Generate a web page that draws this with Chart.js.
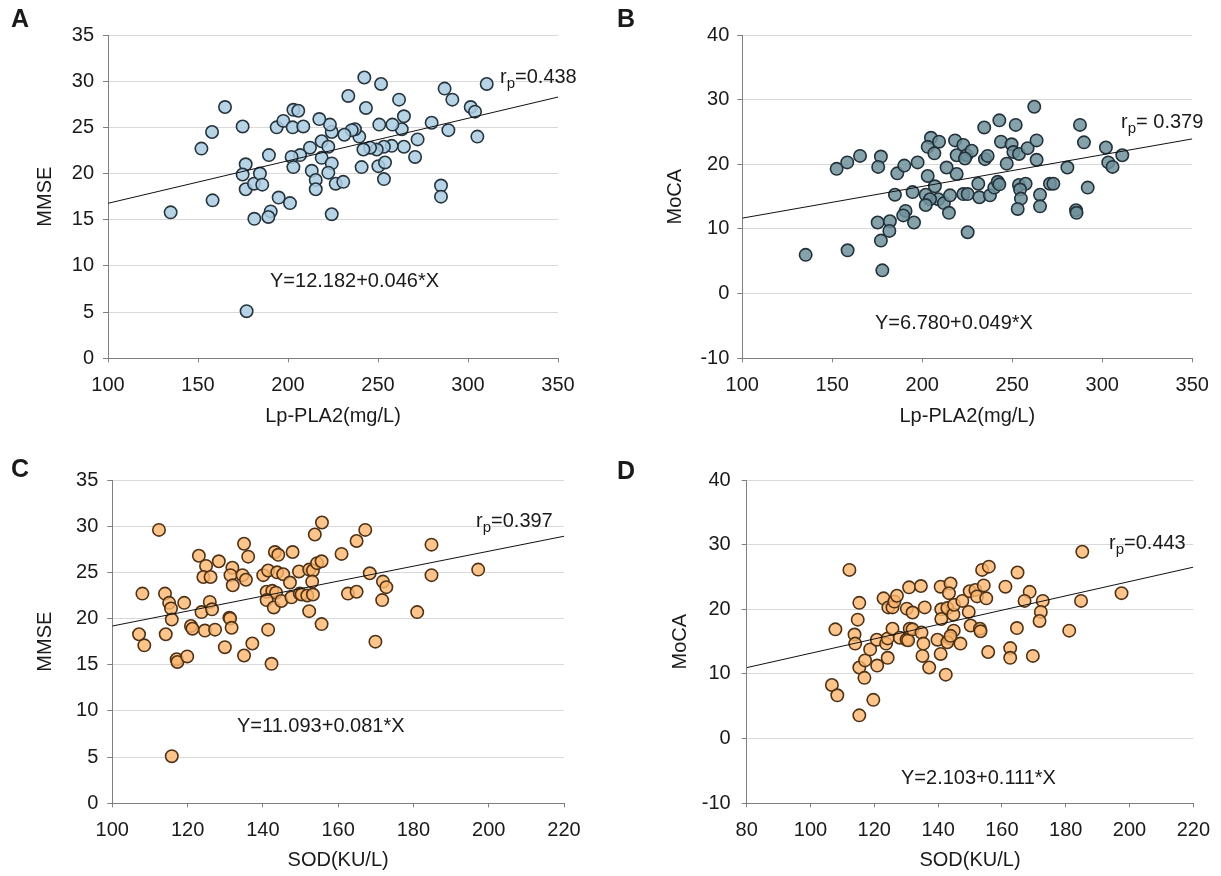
<!DOCTYPE html>
<html><head><meta charset="utf-8">
<script src="https://cdn.jsdelivr.net/npm/chart.js@4.4.1/dist/chart.umd.min.js"></script>
<style>
html,body{margin:0;padding:0;background:#fff;}
#wrap{position:relative;width:1221px;height:876px;overflow:hidden;font-family:"Liberation Sans",Arial,sans-serif;color:#1a1a1a;}
.cv{position:absolute;}
.t{position:absolute;font-size:20px;line-height:20px;white-space:nowrap;}
.t sub{font-size:15px;position:relative;top:5px;vertical-align:baseline;line-height:0;}
.L{position:absolute;font-weight:bold;font-size:25px;line-height:25px;}
</style></head><body>
<div id="wrap">
<div class="cv" style="left:0;top:0"><canvas id="cA" width="600" height="440"></canvas></div>
<div class="cv" style="left:620px;top:0"><canvas id="cB" width="601" height="440"></canvas></div>
<div class="cv" style="left:0;top:440px"><canvas id="cC" width="600" height="436"></canvas></div>
<div class="cv" style="left:620px;top:440px"><canvas id="cD" width="601" height="436"></canvas></div>

<div class="L" style="left:11px;top:6px">A</div>
<div class="L" style="left:617px;top:6px">B</div>
<div class="L" style="left:11px;top:456px">C</div>
<div class="L" style="left:617px;top:458px">D</div>

<div class="t" style="left:270px;top:270px">Y=12.182+0.046*X</div>
<div class="t" style="left:875px;top:312px">Y=6.780+0.049*X</div>
<div class="t" style="left:237px;top:715px">Y=11.093+0.081*X</div>
<div class="t" style="left:901px;top:767px">Y=2.103+0.111*X</div>

<div class="t" style="left:500px;top:66px">r<sub>p</sub>=0.438</div>
<div class="t" style="left:1121px;top:111px">r<sub>p</sub>= 0.379</div>
<div class="t" style="left:476px;top:510px">r<sub>p</sub>=0.397</div>
<div class="t" style="left:1109px;top:532px">r<sub>p</sub>=0.443</div>
</div>
<script>
// ---- Panel A: Lp-PLA2 vs MMSE ----
const lpA_x = [165.0,157.8,151.9,174.8,134.8,158.1,176.5,174.8,176.5,181.1,184.4,185.7,189.4,194.8,190.4,189.1,181.3,177.0,193.7,
 242.4,251.7,233.5,243.3,261.7,287.0,291.3,310.4,301.5,303.9,305.2,279.8,289.1,272.0,264.4,263.2,258.0,250.7,264.4,270.6,
 257.6,253.3,249.3,245.6,241.9,240.9,250.2,253.9,253.3,285.0,285.0,239.6,237.2,235.4,231.3,224.3,223.3,217.4,218.7,222.4,
 212.2,206.7,202.0,218.7,224.3,203.0,213.2,222.4,215.4,215.4,226.5,230.7,224.3,201.1,197.4,202.6,208.5,203.0,205.7];
const mmseA_y = [27.2,24.5,22.7,25.1,15.8,17.1,21.0,19.9,18.3,18.9,20.0,18.8,22.0,17.4,15.9,15.3,15.1,5.1,25.0,
 30.4,29.7,28.4,27.1,28.0,29.2,28.0,29.7,27.2,26.7,24.0,25.5,24.7,23.7,26.2,24.8,25.3,25.3,22.9,21.8,
 23.0,22.9,22.6,22.8,22.6,20.7,20.8,21.2,19.4,18.7,17.5,24.0,24.8,24.7,24.2,24.5,25.3,25.9,23.5,22.9,
 22.8,22.0,21.8,21.7,21.1,20.7,20.3,20.1,19.3,18.3,18.9,19.1,15.6,16.8,25.7,25.0,25.1,26.9,26.8];

// ---- Panel B: Lp-PLA2 vs MoCA ----
const lpB_x = [135.2,158.5,177.8,152.4,158.3,165.4,177.0,175.5,175.2,182.0,181.7,177.0,186.1,190.0,197.4,184.8,190.7,189.4,195.4,
 194.6,201.9,203.0,207.0,208.9,204.3,201.9,204.8,209.3,203.0,206.7,212.0,
 213.5,218.2,219.1,222.8,224.6,227.4,223.7,219.1,215.4,214.8,222.8,225.2,225.2,234.4,242.8,251.9,262.2,243.7,249.6,250.6,
 253.7,258.5,263.5,234.8,236.3,246.9,263.5,231.1,231.7,237.6,240.0,241.9,242.8,253.7,257.4,254.3,254.8,253.0,265.4,265.4,
 270.9,272.8,287.6,289.8,280.6,291.9,285.4,285.7,302.0,303.3,305.7,311.1];
const mocaB_y = [6.0,6.7,3.6,19.3,20.3,21.3,21.2,19.6,11.0,11.2,9.7,8.2,18.6,19.8,20.3,15.3,12.8,12.1,11.0,
 15.7,15.3,18.2,16.6,14.6,14.6,13.7,24.1,23.5,22.7,21.7,14.0,
 19.5,23.7,21.4,23.0,21.4,22.1,20.9,18.5,15.2,12.5,15.4,15.4,9.5,25.7,26.8,26.1,28.9,23.5,23.1,21.9,
 21.6,22.5,23.7,20.8,21.3,20.1,20.7,17.0,14.9,15.2,16.4,17.3,16.9,16.8,17.0,16.1,14.7,13.1,15.3,13.5,
 17.0,17.0,26.1,23.4,19.5,16.4,12.9,12.5,22.6,20.3,19.6,21.4];

// ---- Panel C: SOD vs MMSE ----
const sodC_x = [112.4,108.0,107.1,108.5,114.0,115.1,115.6,115.8,114.2,117.1,117.3,119.9,115.8,119.1,120.9,121.3,123.7,124.6,127.3,
 125.9,126.5,123.0,124.9,124.2,126.1,128.3,131.9,131.4,132.0,134.6,135.5,135.0,136.1,131.1,131.3,131.7,129.9,135.0,137.2,
 141.4,142.3,140.1,141.4,143.2,144.1,143.8,141.0,142.5,143.5,141.0,142.9,
 145.4,147.2,147.9,144.9,147.6,149.8,149.6,152.3,153.3,153.1,154.4,155.6,153.8,155.7,160.9,164.9,167.2,168.4,171.9,172.8,
 171.7,162.6,164.9,152.3,155.6,150.3,151.8,153.3,181.0,169.9,184.8,184.8,197.2];
const mmseC_y = [29.6,22.7,18.3,17.1,22.7,21.7,21.1,19.9,18.3,15.6,15.3,15.9,5.1,21.7,19.2,18.9,20.7,18.7,18.8,
 21.8,21.0,26.8,25.7,24.5,24.5,26.2,25.5,24.7,23.6,24.7,24.2,28.1,26.7,20.1,20.0,19.0,16.9,16.0,17.3,
 18.8,15.1,24.7,25.2,27.2,26.9,25.0,22.9,23.0,22.8,22.0,21.2,
 24.8,23.9,27.2,21.9,22.3,22.7,25.1,25.3,25.2,24.0,26.0,26.2,29.1,30.4,27.0,28.4,29.6,24.9,24.0,23.4,
 22.0,22.7,22.9,20.8,19.4,22.6,22.5,22.6,20.7,17.5,28.0,24.7,25.3];

// ---- Panel D: SOD vs MoCA ----
const sodD_x = [112.2,107.8,106.7,108.4,115.3,119.7,115.3,114.8,113.8,114.0,115.3,116.9,117.1,118.7,120.9,120.8,123.7,124.2,124.2,
 122.9,124.4,125.7,126.3,127.1,125.7,128.0,130.1,130.6,131.1,132.0,130.9,134.6,130.2,132.0,135.8,134.8,135.4,135.1,137.2,
 139.8,140.8,140.8,141.0,141.0,
 143.9,143.4,142.9,144.8,145.0,147.6,144.9,143.7,142.9,147.0,142.4,143.9,149.9,151.7,152.2,154.3,155.1,153.8,155.9,164.9,
 161.1,168.7,167.1,172.8,172.2,171.8,149.6,150.2,153.1,153.3,164.7,155.7,162.6,162.6,169.7,181.1,184.8,185.2,197.5];
const mocaD_y = [26.1,16.9,8.3,6.7,3.6,6.0,21.0,18.4,16.1,14.7,11.0,9.4,12.1,13.8,11.3,15.3,14.7,12.5,15.5,
 21.7,20.3,20.3,21.2,22.1,17.0,15.6,15.3,15.2,17.0,16.9,23.4,23.6,20.1,19.5,20.3,16.4,14.7,12.8,11.0,
 15.3,13.1,23.5,20.0,18.5,
 24.0,22.5,20.2,19.2,20.7,21.3,16.7,15.5,14.9,14.7,9.9,15.9,22.8,23.0,22.0,23.7,21.7,26.1,26.6,25.7,
 23.5,22.7,21.3,21.3,19.6,18.2,19.6,17.5,17.0,16.6,17.1,13.4,14.0,12.5,12.8,16.7,21.3,28.9,22.5];

// regression line end points (from printed equations)
const fitA_x = [100, 350], fitA_y = [16.78, 28.28];
const fitB_x = [100, 350], fitB_y = [11.68, 23.93];
const fitC_x = [100, 220], fitC_y = [19.19, 28.91];
const fitD_x = [80, 220],  fitD_y = [10.98, 26.52];

// axis ranges [min, max, step]
const axA_x = [100, 350, 50], axA_y = [0, 35, 5];
const axB_x = [100, 350, 50], axB_y = [-10, 40, 10];
const axC_x = [100, 220, 20], axC_y = [0, 35, 5];
const axD_x = [80, 220, 20],  axD_y = [-10, 40, 10];

const FONT = '"Liberation Sans", Arial, sans-serif';
Chart.defaults.font.family = FONT;
Chart.defaults.color = '#1a1a1a';

function pts(xs, ys){ return xs.map((x,i)=>({x:x, y:ys[i]})); }

function make(id, xs, ys, fx, fy, ax, ay, xt, yt, fill, edge, d){
  return new Chart(document.getElementById(id), {
    type:'scatter',
    data:{datasets:[
      {type:'line', data:pts(fx,fy), borderColor:'#111', borderWidth:1, pointRadius:0, fill:false, order:0, tension:0},
      {data:pts(xs,ys), backgroundColor:fill, borderColor:edge, borderWidth:1.6, pointRadius:6.2, pointHoverRadius:6.2, order:1}
    ]},
    options:{
      responsive:false, animation:false,
      layout:{padding:{left:0, top:d.top, right:d.right, bottom:0}},
      plugins:{legend:{display:false}, tooltip:{enabled:false}},
      scales:{
        x:{type:'linear', min:ax[0], max:ax[1],
           ticks:{stepSize:ax[2], font:{size:20}, color:'#1a1a1a', padding:11, maxRotation:0},
           grid:{drawOnChartArea:false, drawTicks:true, tickLength:4, tickColor:'#7f7f7f'},
           border:{display:true, color:'#7f7f7f', width:1},
           title:{display:true, text:xt, font:{size:20}, color:'#1a1a1a', padding:{top:0, bottom:d.xtp}},
           afterFit:(s)=>{ s.height = d.xh; }},
        y:{type:'linear', min:ay[0], max:ay[1],
           ticks:{stepSize:ay[2], font:{size:20}, color:'#1a1a1a', padding:d.ylp},
           grid:{color:'#d9d9d9', lineWidth:1, tickLength:5, tickColor:'#7f7f7f'},
           border:{display:true, color:'#7f7f7f', width:1},
           title:{display:true, text:yt, font:{size:20}, color:'#1a1a1a', padding:{top:d.ytp, bottom:0}},
           afterFit:(s)=>{ s.width = d.yw; }}
      }
    }
  });
}

const blueFill = 'rgba(170,204,226,0.85)', blueEdge = '#26343d';
const tealFill = 'rgba(112,146,156,0.85)', tealEdge = '#22313a';
const orgFill  = 'rgba(253,182,110,0.8)',  orgEdge  = '#4f3216';

make('cA', lpA_x, mmseA_y, fitA_x, fitA_y, axA_x, axA_y, 'Lp-PLA2(mg/L)', 'MMSE', blueFill, blueEdge,
     {top:35, right:42, xh:81.7, xtp:12, yw:108, ytp:33, ylp:9});
make('cB', lpB_x, mocaB_y, fitB_x, fitB_y, axB_x, axB_y, 'Lp-PLA2(mg/L)', 'MoCA', tealFill, tealEdge,
     {top:35, right:28.7, xh:81.7, xtp:12, yw:122.3, ytp:43, ylp:8});
make('cC', sodC_x, mmseC_y, fitC_x, fitC_y, axC_x, axC_y, 'SOD(KU/L)', 'MMSE', orgFill, orgEdge,
     {top:40, right:36, xh:72.7, xtp:4, yw:112.3, ytp:33, ylp:9});
make('cD', sodD_x, mocaD_y, fitD_x, fitD_y, axD_x, axD_y, 'SOD(KU/L)', 'MoCA', orgFill, orgEdge,
     {top:40, right:25.3, xh:72.7, xtp:4, yw:126.7, ytp:48, ylp:11});
</script>
</body></html>
